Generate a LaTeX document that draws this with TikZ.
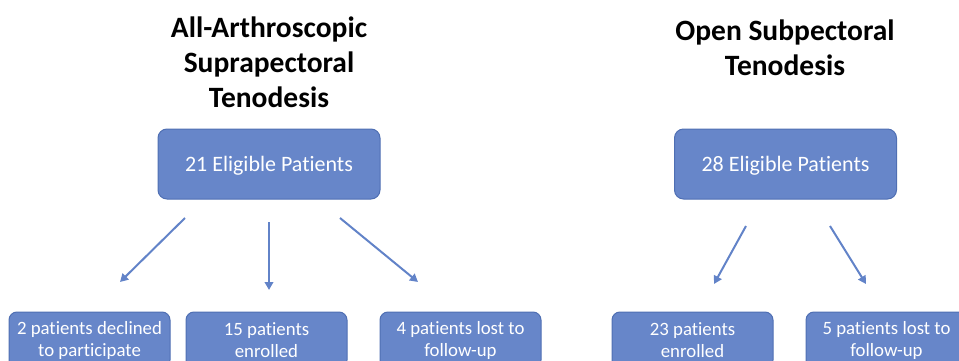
\documentclass[tikz,border=0pt]{standalone}
\usepackage{fontspec}
\setmainfont{Carlito}[Ligatures={NoCommon}]
\usetikzlibrary{arrows.meta}
\definecolor{boxfill}{HTML}{6786C9}
\definecolor{boxline}{HTML}{4F6FB3}
\definecolor{arrowc}{HTML}{6283C8}
\begin{document}
\begin{tikzpicture}[x=1pt,y=-1pt,
  topbox/.style={draw=boxline,line width=1pt,fill=boxfill,rounded corners=9pt,minimum width=222pt,minimum height=70pt,text=white,font=\fontsize{22}{26}\selectfont,inner sep=0pt,text depth=0.5pt},
  botbox/.style={draw=boxline,line width=1pt,fill=boxfill,rounded corners=8pt,minimum width=161pt,minimum height=56pt,text=white,font=\fontsize{18.8}{22}\selectfont,align=center,inner sep=0pt},
  title/.style={font=\bfseries\fontsize{29.5}{35}\selectfont,align=center,inner sep=0pt},
  arr/.style={draw=arrowc,line width=2pt,-{Triangle[length=8pt,width=8.5pt]}}]
\useasboundingbox (0,0) rectangle (959,361);
\clip (0,0) rectangle (959,361);
\node[title] (t1) at (269,62) {All-Arthroscopic\\Suprapectoral\\Tenodesis};
\node[title] (t2) at (785,48) {Open Subpectoral\\Tenodesis};
\node[topbox] (a) at (269,164) {21 Eligible Patients};
\node[topbox] (b) at (785.5,164) {28 Eligible Patients};
\node[botbox] (a1) at (89.5,340) {2 patients declined\\to participate};
\node[botbox] (a2) at (266.5,340) {15 patients\\enrolled};
\node[botbox] (a3) at (460.5,340) {4 patients lost to\\follow-up};
\node[botbox] (b1) at (692.5,340) {23 patients\\enrolled};
\node[botbox] (b2) at (886.5,340) {5 patients lost to\\follow-up};
\coordinate (s1) at (185,218); \coordinate (e1) at (120,282);
\coordinate (s2) at (269,222); \coordinate (e2) at (269,290);
\coordinate (s3) at (340,218); \coordinate (e3) at (418,282);
\coordinate (s4) at (746,226); \coordinate (e4) at (714,284);
\coordinate (s5) at (830,226); \coordinate (e5) at (866,284);
\draw[arr] (s1) -- (e1);
\draw[arr] (s2) -- (e2);
\draw[arr] (s3) -- (e3);
\draw[arr] (s4) -- (e4);
\draw[arr] (s5) -- (e5);
\end{tikzpicture}
\end{document}
